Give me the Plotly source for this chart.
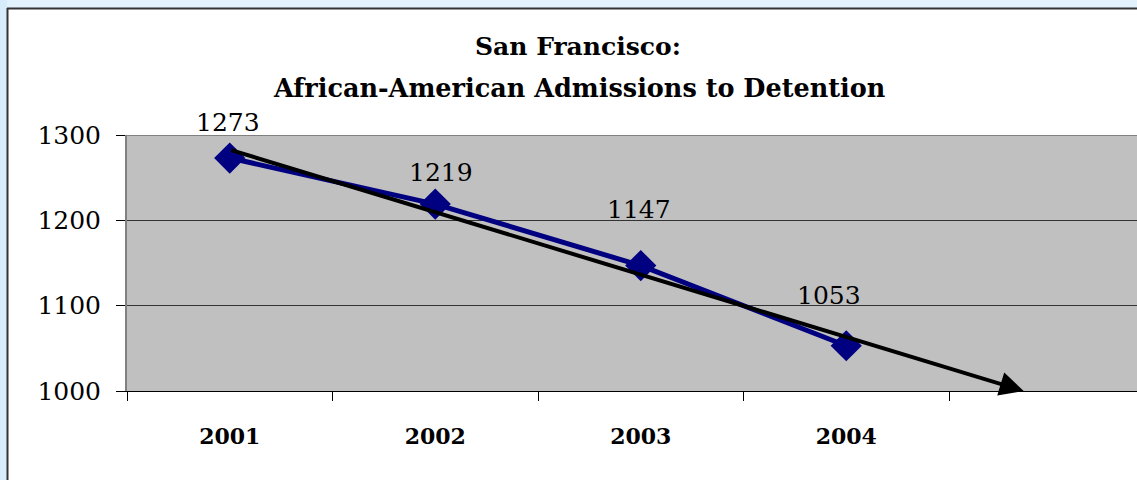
import numpy as np
import plotly.graph_objects as go

# ---- data ----
years = ["2001", "2002", "2003", "2004"]
admissions = [1273, 1219, 1147, 1053]
y_ticks = [1000, 1100, 1200, 1300]
title_line1 = "San Francisco:"
title_line2 = "African-American Admissions to Detention"

# ---- style / layout helpers ----
W, H = 1137, 480
PL, PR, PT, PB = 127, 1137, 135, 391   # plot area in pixels
label_dx = [-2, 6, -2, -17]
label_dy = [36, 32, 56, 50]

def px_x(p):
    return (p - PL) / (PR - PL)

def px_y(p):
    return (PB - p) / (PB - PT)

xi = list(range(len(years)))

# linear trend (as Excel trendline) extended forward until it hits the axis minimum
slope, intercept = np.polyfit([i + 1 for i in xi], admissions, 1)
y_min = y_ticks[0]
x_end = (y_min - intercept) / slope - 1
y_start = slope * 1 + intercept

fig = go.Figure()
fig.add_trace(go.Scatter(
    x=xi, y=admissions, mode="lines+markers",
    line=dict(color="#000080", width=5),
    marker=dict(symbol="diamond", size=24, color="#000080"),
    hoverinfo="skip", showlegend=False,
))

annotations = []
for i, v in enumerate(admissions):
    annotations.append(dict(
        x=xi[i], y=v, xref="x", yref="y", text=str(v), showarrow=False,
        xshift=label_dx[i], yshift=label_dy[i],
        font=dict(family="DejaVu Serif", size=25, color="black"),
    ))
# trend arrow
annotations.append(dict(
    x=x_end, y=y_min, ax=xi[0], ay=y_start, xref="x", yref="y",
    axref="x", ayref="y", text="", showarrow=True,
    arrowhead=2, arrowsize=1.2, arrowwidth=4, arrowcolor="black",
))
# titles
annotations.append(dict(
    x=px_x(578), y=px_y(46), xref="paper", yref="paper", text=title_line1,
    showarrow=False, xanchor="center", yanchor="middle",
    font=dict(family="DejaVu Serif", size=25, color="black", weight="bold"),
))
annotations.append(dict(
    x=px_x(579), y=px_y(88), xref="paper", yref="paper", text=title_line2,
    showarrow=False, xanchor="center", yanchor="middle",
    font=dict(family="DejaVu Serif", size=25.5, color="black", weight="bold"),
))

shapes = [
    # light blue outer frame
    dict(type="rect", xref="paper", yref="paper", x0=px_x(-5), x1=px_x(W + 5),
         y0=px_y(8), y1=px_y(-5), fillcolor="#e2f2fc", line_width=0, layer="above"),
    dict(type="rect", xref="paper", yref="paper", x0=px_x(-5), x1=px_x(7),
         y0=px_y(H + 5), y1=px_y(-5), fillcolor="#d6ebfb", line_width=0, layer="above"),
    # dark border of chart area
    dict(type="line", xref="paper", yref="paper", x0=px_x(7), x1=px_x(W + 5),
         y0=px_y(8.5), y1=px_y(8.5), line=dict(color="#333333", width=2), layer="above"),
    dict(type="line", xref="paper", yref="paper", x0=px_x(7.5), x1=px_x(7.5),
         y0=px_y(8), y1=px_y(H + 5), line=dict(color="#333333", width=2), layer="above"),
    # top border of plot area
    dict(type="line", xref="paper", yref="y", x0=0, x1=1, y0=y_ticks[-1], y1=y_ticks[-1],
         line=dict(color="#808080", width=2), layer="below"),
]

fig.update_layout(
    width=W, height=H,
    margin=dict(l=PL, r=W - PR, t=PT, b=H - PB, pad=0),
    paper_bgcolor="white", plot_bgcolor="#c0c0c0",
    annotations=annotations, shapes=shapes,
    xaxis=dict(
        range=[-0.5, -0.5 + (PR - PL) / 205.5], tickvals=xi, ticktext=years,
        ticks="", showgrid=False, zeroline=False,
        showline=True, linecolor="black", linewidth=1,
        tickfont=dict(family="DejaVu Serif", size=22, color="black", weight="bold"),
        ticklabelstandoff=26, automargin=False,
        minor=dict(tick0=-0.5, dtick=1, ticks="outside", ticklen=9,
                   tickcolor="black", tickwidth=1, showgrid=False),
    ),
    yaxis=dict(
        range=[y_ticks[0], y_ticks[-1]], tickvals=y_ticks,
        ticks="outside", ticklen=9, tickcolor="black", tickwidth=1,
        showgrid=True, gridcolor="#333333", gridwidth=1, zeroline=False,
        showline=True, linecolor="#808080", linewidth=2,
        tickfont=dict(family="DejaVu Serif", size=25, color="black"),
        ticklabelstandoff=10, automargin=False,
    ),
)

fig.write_html(
    "out.html",
    config={"displayModeBar": False},
    post_script="document.body.style.margin='0';document.body.style.overflow='hidden';",
)
